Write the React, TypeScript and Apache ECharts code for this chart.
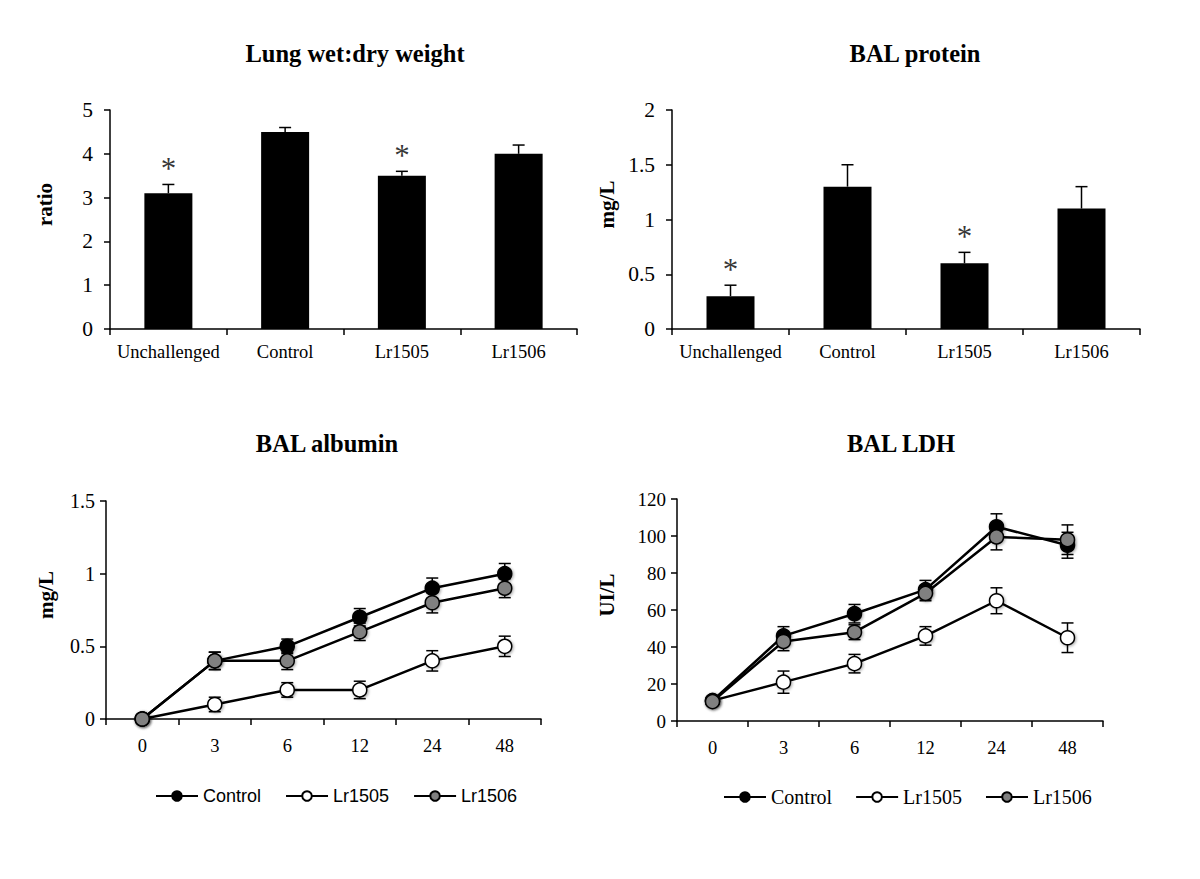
import React, { useEffect, useRef } from "react";
import * as echarts from "echarts";

// ---- Data ----
const barCategories = ["Unchallenged", "Control", "Lr1505", "Lr1506"];
const wetDryValues = [3.1, 4.5, 3.5, 4.0];
const wetDryErrors = [0.2, 0.1, 0.1, 0.2];
const wetDryStars = [true, false, true, false];
const proteinValues = [0.3, 1.3, 0.6, 1.1];
const proteinErrors = [0.1, 0.2, 0.1, 0.2];
const proteinStars = [true, false, true, false];

const timePoints = ["0", "3", "6", "12", "24", "48"];
const albuminControl = [0, 0.4, 0.5, 0.7, 0.9, 1.0];
const albuminControlErr = [0, 0.06, 0.05, 0.06, 0.07, 0.07];
const albuminLr1505 = [0, 0.1, 0.2, 0.2, 0.4, 0.5];
const albuminLr1505Err = [0, 0.05, 0.05, 0.06, 0.07, 0.07];
const albuminLr1506 = [0, 0.4, 0.4, 0.6, 0.8, 0.9];
const albuminLr1506Err = [0, 0.06, 0.06, 0.06, 0.07, 0.065];

const ldhControl = [11, 46, 58, 71, 105, 95];
const ldhControlErr = [2, 5, 5, 5, 7, 7];
const ldhLr1505 = [11, 21, 31, 46, 65, 45];
const ldhLr1505Err = [2, 6, 5, 5, 7, 8];
const ldhLr1506 = [10.5, 43, 48, 69, 99.5, 98];
const ldhLr1506Err = [2, 5, 4, 4, 7, 8];

const seriesNames = ["Control", "Lr1505", "Lr1506"];

// ---- Styles ----
const SERIF = "'Liberation Serif', 'Times New Roman', serif";
const SANS = "'Liberation Sans', Arial, sans-serif";
const fills = ["#000000", "#ffffff", "#808080"];

function errorBarSeries(values: number[], errors: number[], axis: number, upperOnly: boolean, capW: number, z: number) {
  return {
    type: "custom",
    xAxisIndex: axis,
    yAxisIndex: axis,
    z,
    silent: true,
    data: values.map((v, i) => [i, v, errors[i]]),
    renderItem: (params: any, api: any) => {
      const i = api.value(0);
      const v = api.value(1);
      const e = api.value(2);
      const top = api.coord([i, v + e]);
      const bot = api.coord([i, upperOnly ? v : v - e]);
      const st = { stroke: "#000", lineWidth: 1.5 };
      const children: any[] = [
        { type: "line", shape: { x1: top[0], y1: top[1], x2: bot[0], y2: bot[1] }, style: st },
        { type: "line", shape: { x1: top[0] - capW / 2, y1: top[1], x2: top[0] + capW / 2, y2: top[1] }, style: st },
      ];
      if (!upperOnly) {
        children.push({ type: "line", shape: { x1: bot[0] - capW / 2, y1: bot[1], x2: bot[0] + capW / 2, y2: bot[1] }, style: st });
      }
      return { type: "group", children };
    },
  };
}

function starSeries(values: number[], errors: number[], stars: boolean[], axis: number) {
  return {
    type: "scatter",
    xAxisIndex: axis,
    yAxisIndex: axis,
    symbolSize: 0,
    silent: true,
    z: 5,
    data: values.map((v, i) => (stars[i] ? v + errors[i] : "-")),
    label: {
      show: true,
      position: "top",
      distance: 0,
      formatter: "*",
      fontFamily: SERIF,
      fontSize: 31,
      color: "#000",
    },
  };
}

function lineSeries(name: string, values: number[], idx: number, axis: number) {
  return {
    type: "line",
    name,
    xAxisIndex: axis,
    yAxisIndex: axis,
    data: values,
    z: 3 + idx,
    symbol: "circle",
    symbolSize: 14,
    lineStyle: { color: "#000", width: 2.5 },
    itemStyle: {
      color: fills[idx],
      borderColor: "#000",
      borderWidth: 1.5,
      shadowColor: "rgba(0,0,0,0.35)",
      shadowBlur: 3,
      shadowOffsetX: 1,
      shadowOffsetY: 1,
    },
  };
}

function catAxis(gridIndex: number, data: string[], fontSize: number, margin: number) {
  return {
    type: "category",
    gridIndex,
    data,
    boundaryGap: true,
    axisLine: { lineStyle: { color: "#000", width: 1.5 } },
    axisTick: { show: true, length: 6, lineStyle: { color: "#000", width: 1.5 } },
    axisLabel: { color: "#000", fontFamily: SERIF, fontSize, margin, interval: 0 },
    splitLine: { show: false },
  };
}

function valAxis(gridIndex: number, max: number, interval: number, name: string, fontSize: number, margin: number, nameGap: number) {
  return {
    type: "value",
    gridIndex,
    min: 0,
    max,
    interval,
    name,
    nameLocation: "middle",
    nameGap,
    nameRotate: 90,
    nameTextStyle: {
      color: "#000",
      fontFamily: SERIF,
      fontWeight: "bold",
      fontSize: 21,
      padding: [0, 0, 0, 30],
    },
    axisLine: { show: true, lineStyle: { color: "#000", width: 1.5 } },
    axisTick: { show: true, length: 6, lineStyle: { color: "#000", width: 1.5 } },
    axisLabel: { color: "#000", fontFamily: SERIF, fontSize, margin },
    splitLine: { show: false },
  };
}

const titleStyle = { color: "#000", fontFamily: SERIF, fontWeight: "bold", fontSize: 24.5 };

export default function App() {
  const ref = useRef<HTMLDivElement>(null);

  useEffect(() => {
    if (!ref.current) return;
    const chart = echarts.init(ref.current, undefined, { renderer: "svg" });

    const option: any = {
      animation: false,
      backgroundColor: "#ffffff",
      title: [
        { text: "Lung wet:dry weight", left: 350, top: 36, textAlign: "center", textStyle: titleStyle },
        { text: "BAL protein", left: 910, top: 36, textAlign: "center", textStyle: titleStyle },
        { text: "BAL albumin", left: 322, top: 426, textAlign: "center", textStyle: titleStyle },
        { text: "BAL LDH", left: 896, top: 426, textAlign: "center", textStyle: titleStyle },
      ],
      legend: [
        {
          left: 150,
          top: 782,
          data: seriesNames,
          itemWidth: 42,
          itemHeight: 12,
          itemGap: 24,
          textStyle: { color: "#000", fontFamily: SANS, fontSize: 18 },
        },
        {
          left: 718,
          top: 782,
          data: seriesNames,
          itemWidth: 42,
          itemHeight: 12,
          itemGap: 23,
          textStyle: { color: "#000", fontFamily: SERIF, fontSize: 20 },
        },
      ],
      grid: [
        { left: 110, top: 110, width: 467, height: 219 },
        { left: 672, top: 110, width: 468, height: 219 },
        { left: 106, top: 501, width: 435, height: 218 },
        { left: 677, top: 499, width: 426, height: 222 },
      ],
      xAxis: [
        catAxis(0, barCategories, 18.5, 13),
        catAxis(1, barCategories, 18.5, 13),
        catAxis(2, timePoints, 18.5, 17),
        catAxis(3, timePoints, 18.5, 17),
      ],
      yAxis: [
        valAxis(0, 5, 1, "ratio", 21.5, 17, 55),
        valAxis(1, 2, 0.5, "mg/L", 21.5, 17, 55),
        valAxis(2, 1.5, 0.5, "mg/L", 20, 11, 50),
        valAxis(3, 120, 20, "UI/L", 19, 11, 60),
      ],
      series: [
        {
          type: "bar",
          xAxisIndex: 0,
          yAxisIndex: 0,
          data: wetDryValues,
          barWidth: 48,
          itemStyle: { color: "#000" },
          z: 2,
        },
        errorBarSeries(wetDryValues, wetDryErrors, 0, true, 12, 3),
        starSeries(wetDryValues, wetDryErrors, wetDryStars, 0),
        {
          type: "bar",
          xAxisIndex: 1,
          yAxisIndex: 1,
          data: proteinValues,
          barWidth: 48,
          itemStyle: { color: "#000" },
          z: 2,
        },
        errorBarSeries(proteinValues, proteinErrors, 1, true, 12, 3),
        starSeries(proteinValues, proteinErrors, proteinStars, 1),

        errorBarSeries(albuminControl, albuminControlErr, 2, false, 12, 2),
        errorBarSeries(albuminLr1505, albuminLr1505Err, 2, false, 12, 2),
        errorBarSeries(albuminLr1506, albuminLr1506Err, 2, false, 12, 2),
        lineSeries("Control", albuminControl, 0, 2),
        lineSeries("Lr1505", albuminLr1505, 1, 2),
        lineSeries("Lr1506", albuminLr1506, 2, 2),

        errorBarSeries(ldhControl, ldhControlErr, 3, false, 12, 2),
        errorBarSeries(ldhLr1505, ldhLr1505Err, 3, false, 12, 2),
        errorBarSeries(ldhLr1506, ldhLr1506Err, 3, false, 12, 2),
        lineSeries("Control", ldhControl, 0, 3),
        lineSeries("Lr1505", ldhLr1505, 1, 3),
        lineSeries("Lr1506", ldhLr1506, 2, 3),
      ],
    };

    chart.setOption(option);
    return () => chart.dispose();
  }, []);

  return (
    <div
      ref={ref}
      style={{ position: "fixed", left: 0, top: 0, width: 1200, height: 879, background: "#fff" }}
    />
  );
}
